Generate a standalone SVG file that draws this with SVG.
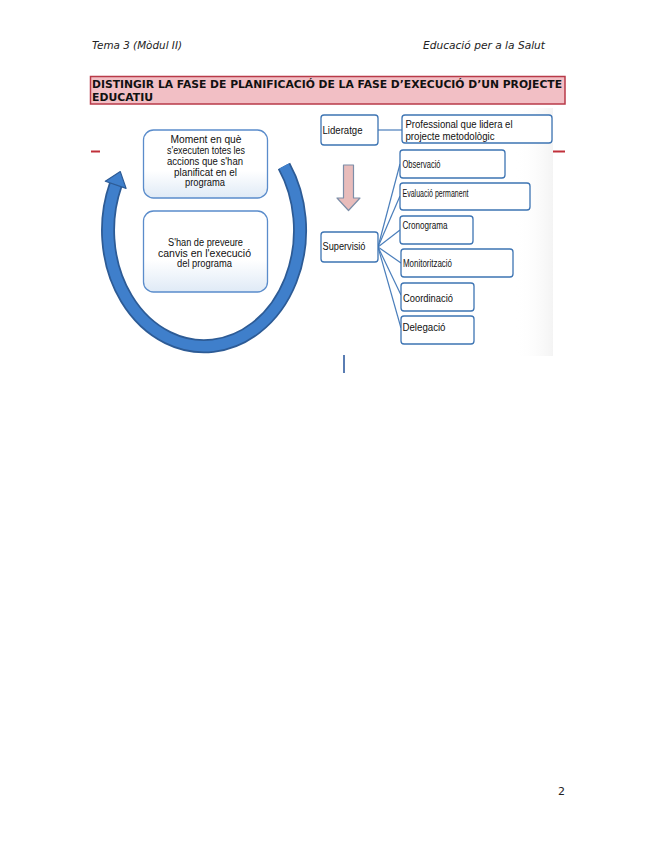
<svg xmlns="http://www.w3.org/2000/svg" width="655" height="848" viewBox="0 0 655 848">
<defs>
<style>
.hdr{font-family:"DejaVu Sans",sans-serif;font-style:italic;font-size:10.5px;fill:#222}
.ttl{font-family:"DejaVu Sans",sans-serif;font-weight:bold;font-size:10.5px;fill:#111}
.t{font-family:"Liberation Sans Narrow","Liberation Sans",Arial,sans-serif;font-size:10px;fill:#111}
.c{text-anchor:middle}
.lbox{fill:url(#lg);stroke:#5a8ccb;stroke-width:1.3}
.rbox{fill:#fff;stroke:#3d74b3;stroke-width:1.3}
.con{stroke:#4a7ebb;stroke-width:1.2;fill:none}
.red{stroke:#c0303a;stroke-width:2}
</style>
<linearGradient id="lg" x1="0" y1="0" x2="0" y2="1">
<stop offset="0" stop-color="#ffffff"/>
<stop offset="0.6" stop-color="#ffffff"/>
<stop offset="1" stop-color="#dfeaf6"/>
</linearGradient>
<linearGradient id="bg" x1="0" y1="0" x2="1" y2="0">
<stop offset="0" stop-color="#ffffff" stop-opacity="0"/>
<stop offset="0.85" stop-color="#ffffff" stop-opacity="0"/>
<stop offset="1" stop-color="#ececec" stop-opacity="0.6"/>
</linearGradient>
</defs>
<rect width="655" height="848" fill="#fff"/>

<g id="header">
<text class="hdr" x="92" y="49" textLength="90" lengthAdjust="spacingAndGlyphs">Tema 3 (Mòdul II)</text>
<text class="hdr" x="423" y="49" textLength="122" lengthAdjust="spacingAndGlyphs">Educació per a la Salut</text>
</g>

<g id="title">
<rect x="90.5" y="76.5" width="474.5" height="27.5" fill="#f2bfc5" stroke="#b83a48" stroke-width="1.5"/>
<text class="ttl" x="92" y="87.5" textLength="470" lengthAdjust="spacingAndGlyphs">DISTINGIR LA FASE DE PLANIFICACIÓ DE LA FASE D’EXECUCIÓ D’UN PROJECTE</text>
<text class="ttl" x="92" y="100.5" textLength="61" lengthAdjust="spacingAndGlyphs">EDUCATIU</text>
</g>

<rect x="300" y="108" width="253" height="248" fill="url(#bg)"/>
<line class="red" x1="91" y1="151.5" x2="100" y2="151.5"/>
<line class="red" x1="553" y1="151.5" x2="565" y2="151.5"/>

<g id="cycle-arrow">
<path d="M284,166 A96,116 0 1 1 115.7,184.8" fill="none" stroke="#2d5b95" stroke-width="14"/>
<path d="M284,166 A96,116 0 1 1 115.7,184.8" fill="none" stroke="#3f7fcb" stroke-width="10.5"/>
<polygon points="105.3,181.2 126.1,188.4 120.3,171.6" fill="#3f7fcb" stroke="#2d5b95" stroke-width="1.2" stroke-linejoin="round"/>
</g>

<g id="box-moment">
<rect class="lbox" x="143.5" y="130" width="124" height="68" rx="10"/>
<text class="t c" x="206" y="142.5" textLength="71" lengthAdjust="spacingAndGlyphs">Moment en què</text>
<text class="t c" x="206" y="154" textLength="78" lengthAdjust="spacingAndGlyphs">s'executen totes les</text>
<text class="t c" x="205" y="165" textLength="76" lengthAdjust="spacingAndGlyphs">accions que s'han</text>
<text class="t c" x="205.5" y="175.5" textLength="63" lengthAdjust="spacingAndGlyphs">planificat en el</text>
<text class="t c" x="205" y="186" textLength="40" lengthAdjust="spacingAndGlyphs">programa</text>
</g>

<g id="box-canvis">
<rect class="lbox" x="143.5" y="211" width="124" height="81" rx="10"/>
<text class="t c" x="205.5" y="245.5" textLength="75" lengthAdjust="spacingAndGlyphs">S'han de preveure</text>
<text class="t c" x="204.5" y="256.5" textLength="93" lengthAdjust="spacingAndGlyphs">canvis      en l'execució</text>
<text class="t c" x="204.5" y="267" textLength="55" lengthAdjust="spacingAndGlyphs">del programa</text>
</g>

<g id="connectors">
<line class="con" x1="378" y1="130" x2="402" y2="130" stroke-width="1.6"/>
<line class="con" x1="378" y1="247" x2="400" y2="164"/>
<line class="con" x1="378" y1="247" x2="400" y2="196"/>
<line class="con" x1="378" y1="247" x2="400" y2="230"/>
<line class="con" x1="378" y1="247" x2="401" y2="263"/>
<line class="con" x1="378" y1="247" x2="401" y2="295"/>
<line class="con" x1="378" y1="247" x2="401" y2="328"/>
</g>

<g id="down-arrow">
<polygon points="343.5,165 353.5,165 353.5,198 360,198 348.5,210.5 337,198 343.5,198" fill="#e8bcbb" stroke="#7d8ea8" stroke-width="1.2" stroke-linejoin="round"/>
</g>

<g id="lideratge">
<rect class="rbox" x="321" y="115" width="57" height="30" rx="3"/>
<text class="t" x="322.5" y="134" textLength="40" lengthAdjust="spacingAndGlyphs">Lideratge</text>
</g>
<g id="professional">
<rect class="rbox" x="402" y="115" width="150" height="28" rx="3"/>
<text class="t" x="405.5" y="127.5" textLength="107" lengthAdjust="spacingAndGlyphs">Professional que lidera el</text>
<text class="t" x="405.5" y="140" textLength="89" lengthAdjust="spacingAndGlyphs">projecte metodològic</text>
</g>
<g id="supervisio">
<rect class="rbox" x="321" y="232" width="57" height="30" rx="3"/>
<text class="t" x="322.5" y="250" textLength="43" lengthAdjust="spacingAndGlyphs">Supervisió</text>
</g>
<g id="observacio">
<rect class="rbox" x="400" y="150" width="105" height="28" rx="3"/>
<text class="t" x="402.5" y="167.5" textLength="38" lengthAdjust="spacingAndGlyphs">Observació</text>
</g>
<g id="evaluacio">
<rect class="rbox" x="400" y="183" width="130" height="27" rx="3"/>
<text class="t" x="402.5" y="196.5" textLength="66" lengthAdjust="spacingAndGlyphs">Evaluació permanent</text>
</g>
<g id="cronograma">
<rect class="rbox" x="400" y="216" width="73" height="28" rx="3"/>
<text class="t" x="402.5" y="228.5" textLength="45" lengthAdjust="spacingAndGlyphs">Cronograma</text>
</g>
<g id="monitoritzacio">
<rect class="rbox" x="401" y="249" width="112" height="28" rx="3"/>
<text class="t" x="403" y="266.5" textLength="49" lengthAdjust="spacingAndGlyphs">Monitorització</text>
</g>
<g id="coordinacio">
<rect class="rbox" x="401" y="283" width="73" height="28" rx="3"/>
<text class="t" x="403" y="301.5" textLength="50" lengthAdjust="spacingAndGlyphs">Coordinació</text>
</g>
<g id="delegacio">
<rect class="rbox" x="401" y="316" width="73" height="28" rx="3"/>
<text class="t" x="402.5" y="330.5" textLength="43" lengthAdjust="spacingAndGlyphs">Delegació</text>
</g>

<line x1="344" y1="355" x2="344" y2="373" stroke="#5a7db3" stroke-width="2"/>

<text x="558" y="795" font-family="DejaVu Sans, sans-serif" font-size="11" fill="#222">2</text>
</svg>
